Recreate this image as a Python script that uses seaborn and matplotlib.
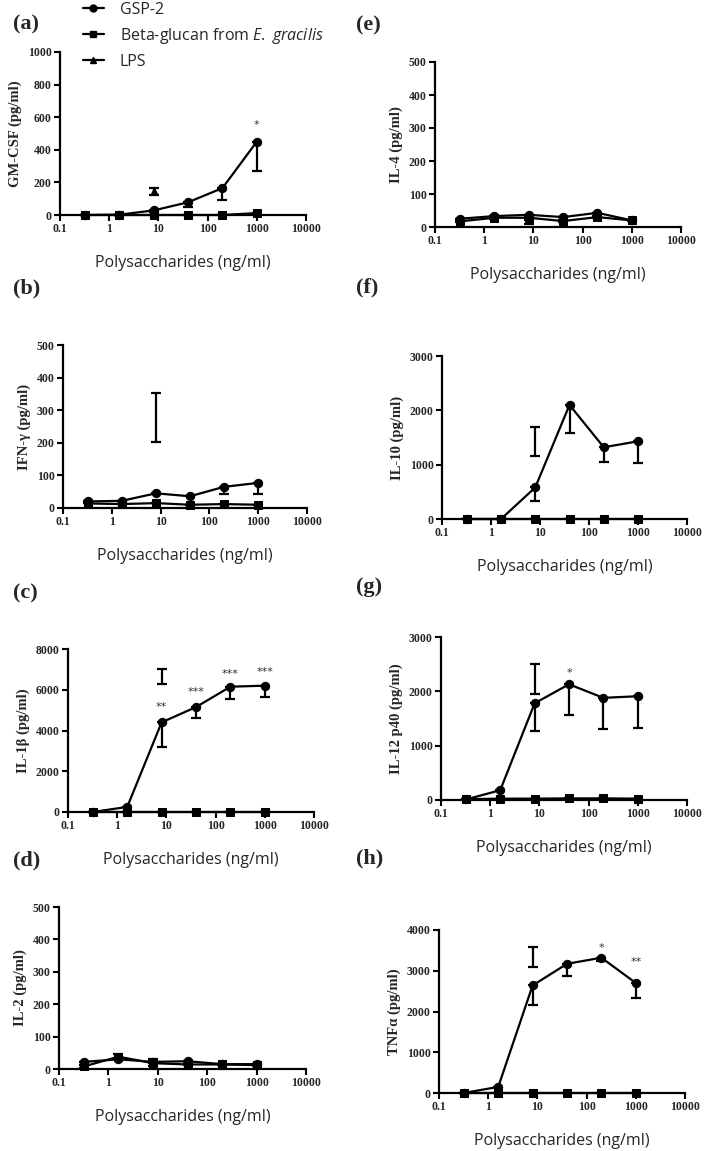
import numpy as np
import matplotlib
matplotlib.use('Agg')
import matplotlib.pyplot as plt
from matplotlib.lines import Line2D
import seaborn as sns

# concentrations (ng/ml), LPS given at a single dose
conc = [0.32, 1.6, 8, 40, 200, 1000]
lps_conc = 8

panels = ['(a)', '(b)', '(c)', '(d)', '(e)', '(f)', '(g)', '(h)']
ylabels = ['GM-CSF (pg/ml)', 'IFN-γ (pg/ml)', 'IL-1β (pg/ml)', 'IL-2 (pg/ml)',
           'IL-4 (pg/ml)', 'IL-10 (pg/ml)', 'IL-12 p40 (pg/ml)', 'TNFα (pg/ml)']
ymax = [1000, 500, 8000, 500, 500, 3000, 3000, 4000]
ystep = [200, 100, 2000, 100, 100, 1000, 1000, 1000]

# GSP-2 means and (downward) SEM
gsp = [
    [0, 2, 28, 78, 165, 450],
    [20, 22, 45, 36, 65, 77],
    [0, 250, 4400, 5150, 6150, 6200],
    [22, 30, 22, 24, 15, 15],
    [25, 33, 37, 30, 43, 20],
    [0, 0, 580, 2100, 1320, 1430],
    [10, 180, 1780, 2130, 1880, 1910],
    [0, 150, 2640, 3170, 3320, 2700],
]
gsp_err = [
    [0, 0, 8, 28, 70, 180],
    [0, 0, 0, 0, 22, 35],
    [0, 0, 1230, 550, 600, 550],
    [0, 0, 0, 0, 0, 0],
    [0, 0, 0, 0, 0, 0],
    [0, 0, 250, 520, 270, 400],
    [0, 0, 510, 560, 570, 580],
    [0, 0, 490, 300, 90, 360],
]

# Beta-glucan from E. gracilis
beta = [
    [0, 0, 0, 0, 0, 12],
    [14, 12, 15, 10, 12, 10],
    [0, 0, 0, 0, 0, 0],
    [8, 38, 18, 14, 14, 12],
    [17, 28, 28, 18, 30, 20],
    [0, 0, 0, 0, 0, 0],
    [15, 25, 25, 30, 30, 25],
    [0, 0, 0, 0, 0, 0],
]
beta_err = [
    [0, 0, 0, 0, 0, 0],
    [0, 0, 0, 0, 0, 0],
    [0, 0, 0, 0, 0, 0],
    [4, 8, 8, 3, 2, 2],
    [3, 5, 5, 3, 4, 2],
    [0, 0, 0, 0, 0, 0],
    [0, 0, 0, 0, 0, 0],
    [0, 0, 0, 0, 0, 0],
]

# LPS mean and SEM
lps = [145, 277, 6650, 25, 15, 1420, 2230, 3340]
lps_err = [20, 75, 370, 7, 5, 265, 280, 240]

# significance marks: (concentration, height, text)
stars = [
    [(1000, 555, '*')],
    [],
    [(8, 5150, '**'), (40, 5890, '***'), (200, 6770, '***'), (1000, 6870, '***')],
    [],
    [],
    [],
    [(40, 2340, '*')],
    [(200, 3560, '*'), (1000, 3215, '**')],
]

xticks = [0.1, 1, 10, 100, 1000, 10000]
xticklabels = ['0.1', '1', '10', '100', '1000', '10000']

sns.set_theme(context='paper', style='ticks')
plt.rcParams['font.family'] = ['Liberation Serif', 'DejaVu Serif']
plt.rcParams['mathtext.fontset'] = 'custom'
plt.rcParams['mathtext.rm'] = 'Open Sans'
plt.rcParams['mathtext.it'] = 'Open Sans:italic'

W, H = 707, 1151
fig = plt.figure(figsize=(W / 100, H / 100), dpi=100)

# axes boxes in pixels: left, top, right, bottom
boxes = [
    (60, 52, 306, 215), (63, 345, 307, 508), (68, 649, 314, 812), (59, 907, 306, 1069),
    (435, 62, 681, 227), (442, 356, 687, 519), (441, 637, 687, 800), (439, 930, 685, 1093),
]
label_pos = [(13, 24), (13, 288), (13, 593), (13, 860),
             (356, 25), (356, 287), (356, 587), (356, 858)]

sans = 'Open Sans'
for i in range(8):
    l, t, r, b = boxes[i]
    ax = fig.add_axes([l / W, 1 - b / H, (r - l) / W, (b - t) / H])
    ax.set_xscale('log')

    sns.lineplot(x=conc, y=gsp[i], ax=ax, color='black', marker='o', markersize=6,
                 markeredgecolor='black', linewidth=1.6, clip_on=False, zorder=4)
    ax.errorbar(conc, gsp[i], yerr=[gsp_err[i], [0] * 6], fmt='none', ecolor='black',
                elinewidth=1.6, capsize=3.5, capthick=1.6, clip_on=False, zorder=4)

    sns.lineplot(x=conc, y=beta[i], ax=ax, color='black', marker='s', markersize=6,
                 markeredgecolor='black', linewidth=1.6, clip_on=False, zorder=3)
    ax.errorbar(conc, beta[i], yerr=beta_err[i], fmt='none', ecolor='black',
                elinewidth=1.6, capsize=3.5, capthick=1.6, clip_on=False, zorder=3)

    ax.errorbar([lps_conc], [lps[i]], yerr=[lps_err[i]], fmt='^' if i == 0 else 'none',
                color='black', markersize=5, elinewidth=1.6, capsize=3.5, capthick=1.6,
                clip_on=False, zorder=5)

    for xs, ys, txt in stars[i]:
        ax.text(xs, ys, txt, ha='center', va='center', fontsize=8, color='#333333',
                family='DejaVu Sans')

    ax.set_xlim(0.1, 10000)
    ax.set_ylim(0, ymax[i])
    ax.set_xticks(xticks)
    ax.set_xticklabels(xticklabels)
    ax.xaxis.set_minor_locator(matplotlib.ticker.NullLocator())
    ax.set_yticks(np.arange(0, ymax[i] + 1, ystep[i]))
    ax.tick_params(axis='both', labelsize=8.5, width=1.5, length=4, pad=2, color='black')
    for lab in ax.get_xticklabels() + ax.get_yticklabels():
        lab.set_fontweight('bold')
    for s in ['left', 'bottom']:
        ax.spines[s].set_linewidth(1.6)
        ax.spines[s].set_color('black')
    sns.despine(ax=ax)

    ax.set_ylabel(ylabels[i], fontsize=10.5, fontweight='bold', labelpad=4)
    ax.set_xlabel('Polysaccharides (ng/ml)', fontsize=11.5, family=sans, labelpad=14)

    fig.text(label_pos[i][0] / W, 1 - label_pos[i][1] / H, panels[i], fontsize=16,
             fontweight='bold', va='center', ha='left')

handles = [
    Line2D([], [], color='black', marker='o', markersize=5, linewidth=1.6),
    Line2D([], [], color='black', marker='s', markersize=5, linewidth=1.6),
    Line2D([], [], color='black', marker='^', markersize=5, linewidth=1.6),
]
fig.legend(handles, ['GSP-2', 'Beta-glucan from $\\mathit{E.}$ $\\mathit{gracilis}$', 'LPS'],
           loc='upper left', bbox_to_anchor=(83 / W, 1 - 2 / H), frameon=False,
           prop={'family': sans, 'size': 11.5}, handlelength=1.3, handletextpad=1.0,
           labelspacing=0.5, borderaxespad=0, borderpad=0)

fig.savefig('out.png', dpi=100)
